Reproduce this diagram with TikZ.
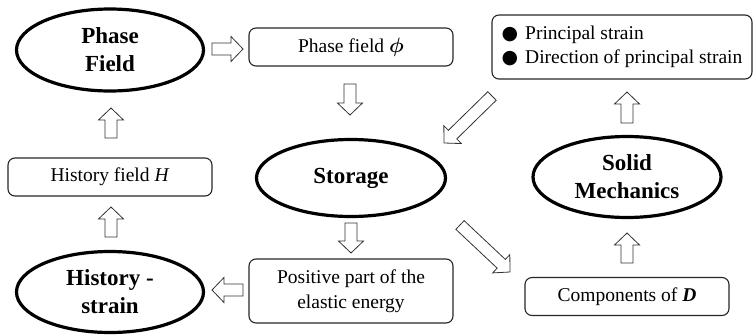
\documentclass[tikz,border=0pt]{standalone}
\usepackage{amsmath}
\usepackage{bm}
\usepackage{fontspec}
\setmainfont{Liberation Serif}
\newfontfamily\dotfont{DejaVu Sans}
\usetikzlibrary{shapes.geometric,calc}

\tikzset{
  x=1pt, y=-1pt,
  module/.style={ellipse, draw=black, line width=3.2pt, inner sep=0pt, align=center,
    font=\fontsize{23}{28}\selectfont\bfseries},
  quantity/.style={draw=black!85, line width=1.1pt, rounded corners=7pt, inner sep=0pt,
    minimum width=204pt, minimum height=38pt, align=center,
    font=\fontsize{19.5}{24.5}\selectfont},
  blockarrow/.style={draw=black!80, line width=0.8pt, fill=white, line join=miter},
}

% hollow block arrow from #1 to #2: shaft 12pt wide, head 25pt wide and 12pt long
\newcommand\blockarr[2]{%
  \coordinate (ba-base) at ($(#2)!12pt!(#1)$);
  \draw[blockarrow]
    ($(#1)!6pt!90:(#2)$) -- ($(ba-base)!6pt!90:(#2)$) -- ($(ba-base)!12.5pt!90:(#2)$)
    -- (#2)
    -- ($(ba-base)!12.5pt!-90:(#2)$) -- ($(ba-base)!6pt!-90:(#2)$) -- ($(#1)!6pt!-90:(#2)$)
    -- cycle;
}

\begin{document}
\begin{tikzpicture}
\useasboundingbox (0,0) rectangle (755,335);

% solver modules
\node[module, minimum width=187pt, minimum height=82pt] (phase)   at (110,50)  {Phase\\Field};
\node[module, minimum width=189pt, minimum height=77pt] (storage) at (351,178) {Storage};
\node[module, minimum width=188pt, minimum height=81pt] (solid)   at (627,177) {Solid\\Mechanics};
\node[module, minimum width=187pt, minimum height=81pt] (hist)    at (110,292) {History -\\strain};

% exchanged quantities
\node[quantity] (phi)  at (351,47)    {Phase field $\bm{\phi}$};
\node[quantity] (hf)   at (110,177)   {History field \textit{H}};
\node[quantity, minimum height=64pt] (pos) at (351,291) {Positive part of the\\elastic energy};
\node[quantity] (comp) at (627,296.5) {Components of \textbf{\textit{D}}};
\node[quantity, minimum width=260pt, minimum height=64pt, align=left] (princ) at (622,47)
  {{\dotfont\fontsize{19}{24}\selectfont ●}\hspace{7pt}Principal strain\\
   {\dotfont\fontsize{19}{24}\selectfont ●}\hspace{7pt}Direction of principal strain};

% arrow end points
\coordinate (a1s) at (212,49);  \coordinate (a1e) at (243,49);
\coordinate (a2s) at (350,84);  \coordinate (a2e) at (350,115);
\coordinate (a3s) at (351,223); \coordinate (a3e) at (351,253);
\coordinate (a4s) at (243,290); \coordinate (a4e) at (212,290);
\coordinate (a5s) at (111,237); \coordinate (a5e) at (111,207);
\coordinate (a6s) at (111,138); \coordinate (a6e) at (111,108);
\coordinate (a7s) at (460,225); \coordinate (a7e) at (510,272);
\coordinate (a8s) at (627,263); \coordinate (a8e) at (627,233);
\coordinate (a9s) at (627,123); \coordinate (a9e) at (627,92);
\coordinate (a10s) at (492,96); \coordinate (a10e) at (444,143);

\blockarr{a1s}{a1e}
\blockarr{a2s}{a2e}
\blockarr{a3s}{a3e}
\blockarr{a4s}{a4e}
\blockarr{a5s}{a5e}
\blockarr{a6s}{a6e}
\blockarr{a7s}{a7e}
\blockarr{a8s}{a8e}
\blockarr{a9s}{a9e}
\blockarr{a10s}{a10e}
\end{tikzpicture}
\end{document}
